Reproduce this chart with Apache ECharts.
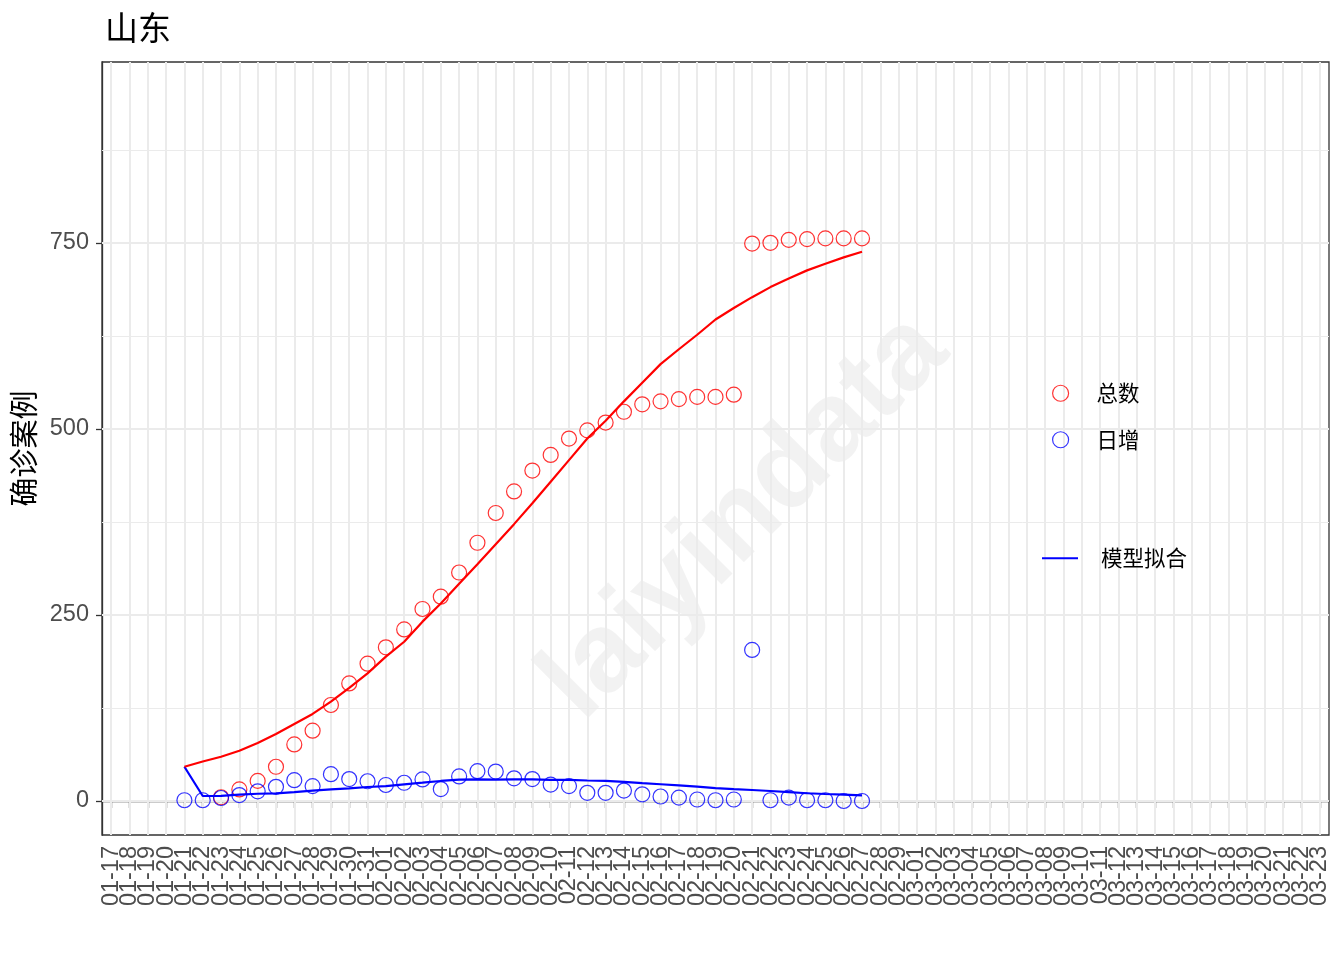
<!DOCTYPE html>
<html><head><meta charset="utf-8">
<script src="https://cdn.jsdelivr.net/npm/echarts@6/dist/echarts.min.js"></script>
<style>html,body{margin:0;padding:0;background:#fff}#c{width:1344px;height:960px}</style>
</head><body><div id="c"></div>
<script>
// x-axis tick labels (categories)
const categories = [
 '01-17','01-18','01-19','01-20','01-21','01-22','01-23','01-24','01-25','01-26','01-27','01-28','01-29','01-30','01-31',
 '02-01','02-02','02-03','02-04','02-05','02-06','02-07','02-08','02-09','02-10','02-11','02-12','02-13','02-14','02-15',
 '02-16','02-17','02-18','02-19','02-20','02-21','02-22','02-23','02-24','02-25','02-26','02-27','02-28','02-29',
 '03-01','03-02','03-03','03-04','03-05','03-06','03-07','03-08','03-09','03-10','03-11','03-12','03-13','03-14','03-15',
 '03-16','03-17','03-18','03-19','03-20','03-21','03-22','03-23'
];
// dates that carry data
const dataDates = [
 '01-21','01-22','01-23','01-24','01-25','01-26','01-27','01-28','01-29','01-30','01-31',
 '02-01','02-02','02-03','02-04','02-05','02-06','02-07','02-08','02-09','02-10','02-11','02-12','02-13','02-14','02-15',
 '02-16','02-17','02-18','02-19','02-20','02-21','02-22','02-23','02-24','02-25','02-26','02-27'
];
// 总数 (cumulative confirmed)
const totalCases = [null,null,5,15.5,27,46,76,94.5,129,158,184.5,
 206.5,230.5,258,274.5,307,347,387,416,444,465,487,498,508.5,523,533,537,540,543,543,546,749,750,754,755,756,756,756];
// 日增 (daily new)
const dailyCases = [1,1,4,8,13,19,28,20,36,29.5,26.5,
 21.5,24.5,29,16,33,40,39.5,30.5,29.5,22,20,11,11,14,9,6,4.5,2,1,2,203,1,4.5,1,1,0,0];
// model fit of cumulative
const totalFit = [46,53,59.5,67.5,78,90,103.5,117,133.5,152,171.5,
 194,214,241,265.5,292,318,345,372,400,429,458,487,511,537,562,587,607,626.5,647,662.5,677,690.5,702,713,722,730.5,738];
// model fit of daily
const dailyFit = [46,6.7,7,8.5,9.7,10.3,12,13.9,15.7,17,18.8,
 20,22.4,24.6,26.9,28.7,29,28.6,29,29,28.5,28.5,27.5,27,25.7,24,22.5,21,19.2,17.3,16,14.8,13.4,12,10.4,9.4,8.5,7.6];
// y-axis ticks
const yTicks = [0,250,500,750];
const yMinorTicks = [125,375,625,875];

const pairs = arr => dataDates.map((d,i)=>[d, arr[i]]).filter(p=>p[1]!==null);
const gridCol = '#ebebeb';
const cjk = '"Noto Sans CJK SC", sans-serif';
const latin = '"Liberation Sans", Arial, sans-serif';
const legendRich = gap => ({
  formatter: name => '{g|}{t|' + name + '}',
  textStyle:{rich:{g:{width:gap, height:16}, t:{fontSize:21.5, color:'#000', fontFamily:cjk, lineHeight:16}}}
});

const chart = echarts.init(document.getElementById('c'), null, {renderer:'canvas'});
chart.setOption({
  animation:false,
  backgroundColor:'#fff',
  title:{text:'山东', left:100, top:6, textStyle:{fontSize:33, fontWeight:'normal', color:'#000', fontFamily:cjk}},
  grid:{left:102, right:15, top:62, bottom:125, show:true, borderColor:'#333', borderWidth:1.3, backgroundColor:'transparent'},
  graphic:[{type:'text', x:745, y:517, rotation:45*Math.PI/180, silent:true, z:0,
    style:{text:'laiyindata', fontSize:113, fontWeight:'bold', fill:'rgba(0,0,0,0.05)', align:'center', verticalAlign:'middle', fontFamily:latin}}],
  legend:[
    Object.assign({data:['总数','日增'], orient:'vertical', left:1052, top:382.5, padding:0, itemWidth:16, itemHeight:16, itemGap:25, z:10,
     itemStyle:{borderWidth:1.2}}, legendRich(23)),
    Object.assign({data:[{name:'模型拟合', icon:'rect'}], orient:'vertical', left:1042, top:547.5, padding:0, itemWidth:36, itemHeight:2, z:10},
     legendRich(18))
  ],
  xAxis:{type:'category', data:categories, boundaryGap:true,
    axisLine:{show:true, lineStyle:{color:'#333', width:1.3}},
    axisTick:{show:true, alignWithLabel:true, interval:0, length:7, lineStyle:{color:'#333', width:1.3}},
    axisLabel:{interval:0, rotate:90, fontSize:23.5, color:'#4d4d4d', margin:11, fontFamily:latin},
    splitLine:{show:false}},
  yAxis:{type:'value', min:-45.7, max:993,
    axisLine:{show:true, lineStyle:{color:'#333', width:1.3}},
    axisTick:{show:true, length:6, customValues:yTicks, lineStyle:{color:'#333', width:1.3}},
    axisLabel:{customValues:yTicks, fontSize:23.5, color:'#4d4d4d', margin:13, fontFamily:latin},
    splitLine:{show:false},
    name:'确诊案例', nameLocation:'middle', nameGap:54, nameRotate:90,
    nameTextStyle:{fontSize:29, color:'#000', fontFamily:cjk}},
  series:[
    {type:'line', name:'grid', data:[], silent:true, z:1,
     markLine:{silent:true, z:1, symbol:['none','none'], label:{show:false}, animation:false,
       data:[
         ...categories.map(c=>({xAxis:c, lineStyle:{color:gridCol, width:2, type:'solid'}})),
         ...yTicks.map(v=>({yAxis:v, lineStyle:{color:gridCol, width:2, type:'solid'}})),
         ...yMinorTicks.map(v=>({yAxis:v, lineStyle:{color:gridCol, width:1, type:'solid'}}))
       ]}},
    {type:'scatter', name:'总数', data:pairs(totalCases), symbol:'circle', symbolSize:15, z:3,
     itemStyle:{color:'rgba(0,0,0,0)', borderColor:'#ff0000', borderWidth:1.2}},
    {type:'scatter', name:'日增', data:pairs(dailyCases), symbol:'circle', symbolSize:15, z:3,
     itemStyle:{color:'rgba(0,0,0,0)', borderColor:'#0000ff', borderWidth:1.2}},
    {type:'line', name:'模型拟合', data:pairs(dailyFit), symbol:'none', z:4,
     lineStyle:{color:'#0000ff', width:2.2}, itemStyle:{color:'#0000ff'}},
    {type:'line', name:'总数拟合', data:pairs(totalFit), symbol:'none', z:4,
     lineStyle:{color:'#ff0000', width:2.2}, itemStyle:{color:'#ff0000'}}
  ]
});
</script></body></html>
